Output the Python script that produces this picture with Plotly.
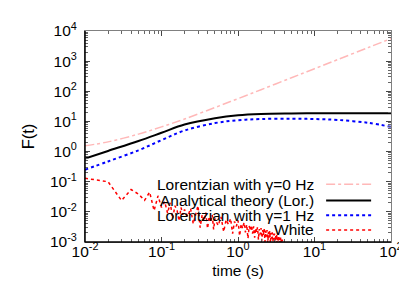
import plotly.graph_objects as go

# ---- data ----
t_smooth = [0.01, 0.02, 0.05, 0.1, 0.2, 0.5, 1, 2, 5, 10, 20, 50, 100]
lor_gamma0 = [1.55, 2.1, 3.8, 6.6, 12, 29, 57, 113, 281, 561, 1120, 2800, 5600]
analytical = [0.59, 1.05, 2.25, 4.2, 7.9, 12.8, 16.0, 17.6, 18.3, 18.6, 18.7, 18.7, 18.7]
lor_gamma1 = [0.25, 0.47, 1.1, 2.4, 5.0, 8.8, 11.0, 12.0, 12.3, 12.0, 11.2, 9.0, 6.6]

t_white = [0.01, 0.02, 0.03, 0.04, 0.05, 0.06, 0.07, 0.08, 0.09, 0.10,
           0.11, 0.12, 0.13, 0.14, 0.15, 0.16, 0.17, 0.18, 0.19, 0.20,
           0.22, 0.24, 0.26, 0.28, 0.30, 0.32, 0.34, 0.36, 0.38, 0.40,
           0.42, 0.44, 0.46, 0.48, 0.50,
           0.55, 0.60, 0.65, 0.70, 0.75, 0.80, 0.85, 0.90, 0.95, 1.00,
           1.05, 1.10, 1.15, 1.20, 1.25, 1.30, 1.35, 1.40, 1.45, 1.50,
           1.55, 1.60, 1.65, 1.70, 1.75, 1.80, 1.85, 1.90, 1.95, 2.00,
           2.05, 2.10, 2.15, 2.20, 2.25, 2.30, 2.35, 2.40, 2.45, 2.50,
           2.55, 2.60, 2.65, 2.70, 2.75, 2.80, 2.85, 2.90, 2.95, 3.00,
           3.05, 3.10, 3.15, 3.20, 3.25, 3.30, 3.35, 3.40, 3.45, 3.50,
           3.55, 3.60, 3.65, 3.70, 3.75, 3.80, 3.85, 3.90, 3.95, 4.00]
white = [0.13, 0.1, 0.024, 0.055, 0.039, 0.024, 0.045, 0.011, 0.034, 0.014,
         0.022, 0.009, 0.02, 0.006, 0.016, 0.011, 0.005, 0.014, 0.008, 0.012,
         0.007, 0.013, 0.004, 0.009, 0.016, 0.003, 0.008, 0.005, 0.0095, 0.0028,
         0.007, 0.0045, 0.008, 0.0026, 0.006,
         0.0035, 0.0068, 0.0022, 0.0055, 0.0038, 0.006, 0.0019, 0.0048, 0.0033, 0.0052,
         0.0016, 0.004, 0.0028, 0.0045, 0.0021, 0.0038, 0.0013, 0.0034, 0.0024, 0.0036,
         0.0019, 0.0033, 0.0014, 0.0029, 0.0021, 0.0031, 0.0012, 0.0027, 0.0018, 0.0029,
         0.0011, 0.0025, 0.0017, 0.0027, 0.0010, 0.0024, 0.0015, 0.0025, 0.0009, 0.0022,
         0.0014, 0.0023, 0.0009, 0.0020, 0.0013, 0.0021, 0.0008, 0.0019, 0.0012, 0.0019,
         0.0008, 0.0017, 0.0011, 0.0018, 0.0007, 0.0016, 0.0010, 0.0016, 0.0007, 0.0014,
         0.0009, 0.0014, 0.0006, 0.0012, 0.0008, 0.0012, 0.0006, 0.0010, 0.0007, 0.0009]

labels = ["Lorentzian with \u03b3=0 Hz", "Analytical theory (Lor.)",
          "Lorentzian with \u03b3=1 Hz", "White"]

x_tick_vals = [0.01, 0.1, 1, 10, 100]
x_tick_text = ["10<sup>-2</sup>", "10<sup>-1</sup>", "10<sup>0</sup>", "10<sup>1</sup>", "10<sup>2</sup>"]
y_tick_vals = [0.001, 0.01, 0.1, 1, 10, 100, 1000, 10000]
y_tick_text = ["10<sup>-3</sup>", "10<sup>-2</sup>", "10<sup>-1</sup>", "10<sup>0</sup>",
               "10<sup>1</sup>", "10<sup>2</sup>", "10<sup>3</sup>", "10<sup>4</sup>"]
x_minor = [m * 10.0 ** e for e in range(-2, 2) for m in range(2, 10)]
y_minor = [m * 10.0 ** e for e in range(-3, 4) for m in range(2, 10)]

FONT = "Liberation Sans, Arial, sans-serif"
styles = [
    dict(color="#ffb8b8", width=1.5, dash="dashdot"),
    dict(color="black", width=2, dash="solid"),
    dict(color="blue", width=2, dash="dot"),
    dict(color="red", width=1.5, dash="dot"),
]

fig = go.Figure()
fig.add_trace(go.Scatter(x=t_smooth, y=lor_gamma0, mode="lines", line=styles[0], name=labels[0], line_shape="spline"))
fig.add_trace(go.Scatter(x=t_smooth, y=analytical, mode="lines", line=styles[1], name=labels[1], line_shape="spline"))
fig.add_trace(go.Scatter(x=t_smooth, y=lor_gamma1, mode="lines", line=styles[2], name=labels[2], line_shape="spline"))
fig.add_trace(go.Scatter(x=t_white, y=white, mode="lines", line=styles[3], name=labels[3]))

# custom legend: text on left, sample on right (gnuplot style)
row_y = [0.274, 0.197, 0.127, 0.057]
annotations = []
shapes = []
for lab, st, yy in zip(labels, styles, row_y):
    annotations.append(dict(x=0.755, y=yy, xref="paper", yref="paper", text=lab,
                            showarrow=False, xanchor="right", yanchor="middle",
                            font=dict(family=FONT, size=15.5, color="black")))
    shapes.append(dict(type="line", xref="paper", yref="paper", x0=0.788, x1=0.935,
                       y0=yy, y1=yy, line=st))
# dark left/bottom border
shapes.append(dict(type="line", xref="paper", yref="paper", x0=0, x1=0, y0=0, y1=1,
                   line=dict(color="black", width=1.5)))
shapes.append(dict(type="line", xref="paper", yref="paper", x0=0, x1=1, y0=0, y1=0,
                   line=dict(color="black", width=1.5)))

axis_common = dict(
    type="log", showgrid=False, zeroline=False, showline=True,
    linecolor="#808080", linewidth=1, mirror="allticks",
    ticks="inside", ticklen=5, tickcolor="#444", tickwidth=1,
    tickfont=dict(family=FONT, size=15.5, color="black"),
)

fig.update_layout(
    width=407, height=285,
    margin=dict(l=77, r=24, t=19, b=51),
    paper_bgcolor="white", plot_bgcolor="white",
    showlegend=False,
    font=dict(family=FONT, size=15.5, color="black"),
    xaxis=dict(axis_common, range=[-2, 2], tickmode="array",
               tickvals=x_tick_vals, ticktext=x_tick_text, ticklabelstandoff=-5,
               minor=dict(tickmode="array", tickvals=x_minor, ticks="inside",
                          ticklen=3, tickcolor="#666", showgrid=False),
               title=dict(text="time (s)", font=dict(family=FONT, size=15.5), standoff=6)),
    yaxis=dict(axis_common, range=[-3, 4], tickmode="array",
               tickvals=y_tick_vals, ticktext=y_tick_text, ticklabelstandoff=4,
               minor=dict(tickmode="array", tickvals=y_minor, ticks="inside",
                          ticklen=3, tickcolor="#666", showgrid=False),
               title=dict(text="F(t)", font=dict(family=FONT, size=16.5), standoff=11)),
    annotations=annotations,
    shapes=shapes,
)

fig.write_html("out.html")
